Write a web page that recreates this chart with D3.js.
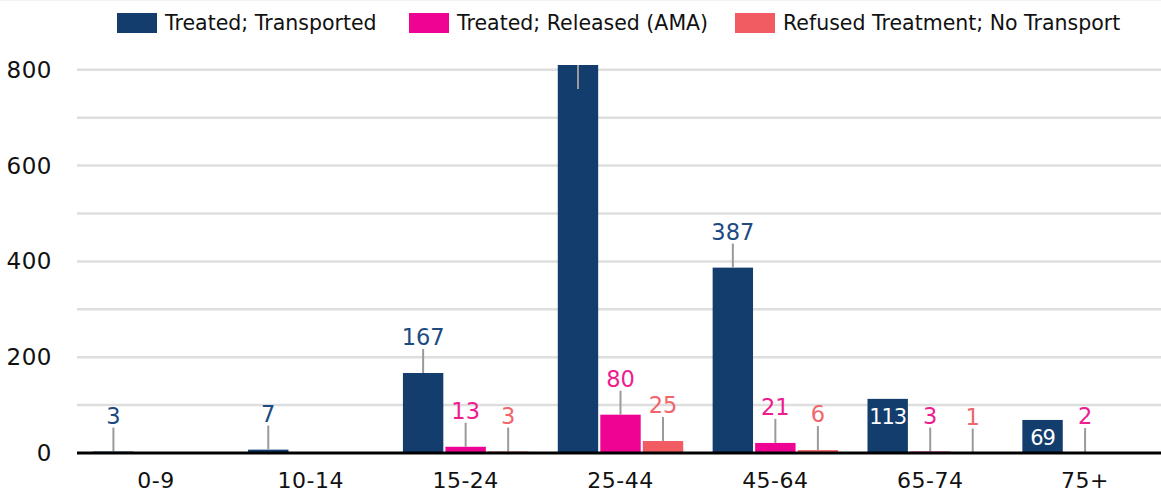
<!DOCTYPE html>
<html>
<head>
<meta charset="utf-8">
<script src="https://cdn.jsdelivr.net/npm/d3@7"></script>
<style>
  html, body { margin: 0; padding: 0; background: #fff; }
  svg { display: block; font-family: "DejaVu Sans", sans-serif; }
</style>
</head>
<body>
<svg id="chart" width="1161" height="492"></svg>
<script>
const ageGroups = ['0-9', '10-14', '15-24', '25-44', '45-64', '65-74', '75+'];
const seriesNames = ['Treated; Transported', 'Treated; Released (AMA)', 'Refused Treatment; No Transport'];
const transported = [3, 7, 167, 810, 387, 113, 69];
const releasedAMA = [0, 0, 13, 80, 21, 3, 2];
const refusedNoTransport = [0, 0, 3, 25, 6, 1, 0];
const yTicks = [0, 200, 400, 600, 800];
const yGrid = [100, 200, 300, 400, 500, 600, 700, 800];

const barColor = ['#133d6d', '#ee0393', '#f15b62'];
const textColor = ['#1d4a80', '#ee1c8f', '#f2656b'];
// labels that sit inside the top of the bar instead of above it
const insideLabels = new Set(['65-74|0', '75+|0']);

const svg = d3.select('#chart');
const plotLeft = 77, plotRight = 1161, plotTop = 65, plotBottom = 453;

const rows = ageGroups.map((g, i) => ({
    group: g,
    values: [transported[i], releasedAMA[i], refusedNoTransport[i]]
}));

const x0 = d3.scaleBand().domain(ageGroups).range([plotLeft + 1.5, plotRight + 1.5])
    .paddingInner(0.19).paddingOuter(0.095);
const x1 = d3.scaleBand().domain([0, 1, 2]).range([0, x0.bandwidth()])
    .paddingInner(0.05);
const y = d3.scaleLinear().domain([0, 810]).range([plotBottom, plotTop]);

// faint top border
svg.append('line').attr('x1', 0).attr('x2', 1161).attr('y1', 0.5).attr('y2', 0.5)
    .attr('stroke', '#f2f2f2');

// gridlines
svg.append('g').selectAll('line').data(yGrid).join('line')
    .attr('x1', plotLeft).attr('x2', plotRight)
    .attr('y1', (d) => y(d)).attr('y2', (d) => y(d))
    .attr('stroke', '#dedede').attr('stroke-width', 2.5);

// y tick labels
svg.append('g').selectAll('text').data(yTicks).join('text')
    .attr('x', 52).attr('y', (d) => y(d) + 8)
    .attr('text-anchor', 'end')
    .attr('font-size', 23).attr('letter-spacing', 0.5).attr('fill', '#111')
    .text((d) => d);

// bars
const groups = svg.append('g').selectAll('g').data(rows).join('g')
    .attr('transform', (d) => `translate(${x0(d.group)},0)`);

groups.selectAll('rect')
    .data((d) => d.values.map((v, k) => ({ group: d.group, k, v })))
    .join('rect')
    .attr('x', (d) => x1(d.k))
    .attr('width', x1.bandwidth())
    .attr('y', (d) => y(d.v))
    .attr('height', (d) => y(0) - y(d.v))
    .attr('fill', (d) => barColor[d.k]);

// data labels
const labelData = [];
rows.forEach((r) => r.values.forEach((v, k) => {
    if (v > 0) labelData.push({ group: r.group, k, v });
}));

const lab = svg.append('g').attr('font-size', 22.5);
labelData.forEach((d) => {
    const cx = x0(d.group) + x1(d.k) + x1.bandwidth() / 2;
    const yt = y(d.v);
    if (d.v >= y.domain()[1]) {
        // bar runs past the top of the plot; label is cut off
        lab.append('line').attr('x1', cx).attr('x2', cx)
            .attr('y1', yt).attr('y2', yt + 24)
            .attr('stroke', '#9a9a9a').attr('stroke-width', 2);
        return;
    }
    if (insideLabels.has(d.group + '|' + d.k)) {
        lab.append('text').attr('x', cx).attr('y', yt + 25)
            .attr('text-anchor', 'middle').attr('font-size', 21)
            .attr('letter-spacing', -1)
            .attr('fill', '#fff').text(d.v);
        return;
    }
    lab.append('line').attr('x1', cx).attr('x2', cx)
        .attr('y1', yt).attr('y2', yt - 24)
        .attr('stroke', '#9a9a9a').attr('stroke-width', 2);
    lab.append('text').attr('x', cx).attr('y', yt - 28)
        .attr('text-anchor', 'middle')
        .attr('fill', textColor[d.k]).text(d.v);
});

// baseline
svg.append('line').attr('x1', plotLeft).attr('x2', plotRight)
    .attr('y1', y(0)).attr('y2', y(0))
    .attr('stroke', '#000').attr('stroke-width', 3);

// x axis labels
svg.append('g').selectAll('text').data(ageGroups).join('text')
    .attr('x', (d) => x0(d) + x0.bandwidth() / 2).attr('y', 488)
    .attr('text-anchor', 'middle').attr('font-size', 22).attr('letter-spacing', 0.5)
    .attr('fill', '#111')
    .text((d) => d);

// legend
const legendX = [117, 409, 735];
const legend = svg.append('g').selectAll('g').data(seriesNames).join('g')
    .attr('transform', (d, i) => `translate(${legendX[i]},13)`);
legend.append('rect').attr('width', 40).attr('height', 20)
    .attr('fill', (d, i) => barColor[i]);
legend.append('text').attr('x', 48).attr('y', 17)
    .attr('font-size', 20.5).attr('fill', '#111')
    .text((d) => d);
</script>
</body>
</html>
